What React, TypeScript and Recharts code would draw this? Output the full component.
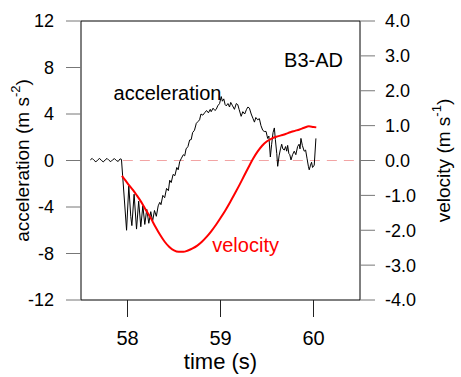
import React from 'react';
import { LineChart, Line, XAxis, YAxis, ReferenceLine, ReferenceArea, ReferenceDot } from 'recharts';

// acceleration trace (m s-2)
const accTime = [
  57.6, 57.62, 57.64, 57.66, 57.68, 57.7, 57.72, 57.74, 57.76, 57.78, 57.8, 57.82, 57.84, 57.86, 57.88, 57.9, 57.92, 57.935,
  57.99, 58.014, 58.035, 58.047, 58.071, 58.097, 58.12, 58.143, 58.165, 58.186, 58.207, 58.229, 58.25, 58.27, 58.29, 58.31,
  58.33, 58.347, 58.36, 58.38, 58.4, 58.42, 58.44, 58.454, 58.47, 58.49, 58.51, 58.53, 58.545, 58.561, 58.58, 58.6, 58.615,
  58.63, 58.65, 58.668, 58.685, 58.7, 58.72, 58.74, 58.757, 58.775, 58.79, 58.81, 58.829, 58.85, 58.87, 58.89, 58.9, 58.92,
  58.94, 58.954, 58.97, 58.99, 59.008, 59.02, 59.035, 59.05, 59.062, 59.08, 59.097, 59.11, 59.13, 59.15, 59.17, 59.186, 59.2,
  59.222, 59.24, 59.26, 59.28, 59.295, 59.311, 59.33, 59.35, 59.365, 59.38, 59.4, 59.418, 59.435, 59.454, 59.47, 59.49,
  59.507, 59.52, 59.536, 59.55, 59.565, 59.579, 59.59, 59.605, 59.615, 59.63, 59.645, 59.658, 59.67, 59.686, 59.7, 59.712,
  59.722, 59.735, 59.745, 59.758, 59.775, 59.793, 59.81, 59.829, 59.845, 59.855, 59.865, 59.88, 59.9, 59.915, 59.93, 59.945,
  59.954, 59.968, 59.979, 59.99, 60.008, 60.026,
];
const accValue = [
  0.05, 0.18, 0.02, -0.12, 0.05, 0.18, 0.0, -0.12, 0.05, 0.18, 0.02, -0.1, 0.06, 0.16, 0.0, -0.08, 0.14, 0.1,
  -6.0, -2.2, -4.8, -5.6, -2.9, -5.9, -3.5, -5.7, -3.9, -5.5, -4.2, -5.4, -4.4, -5.2, -4.3, -4.8,
  -3.9, -3.6, -3.8, -3.0, -3.2, -2.4, -2.6, -1.7, -1.9, -1.2, -1.3, -0.6, -0.8, -0.1, 0.2, 0.5, 0.4,
  1.0, 1.2, 1.76, 1.8, 2.4, 2.6, 3.2, 3.34, 3.5, 4.0, 3.9, 4.1, 4.3, 4.1, 4.4, 4.2, 4.5,
  4.3, 4.4, 4.7, 4.9, 5.5, 5.1, 5.3, 4.8, 4.7, 4.9, 4.6, 5.0, 4.7, 4.4, 4.9, 4.8, 4.4,
  3.8, 4.2, 4.0, 4.4, 4.6, 4.5, 4.0, 3.6, 3.3, 3.7, 3.5, 3.6, 3.0, 2.6, 2.5, 2.5,
  1.9, 2.1, 0.3, 1.4, 2.4, 2.8, 1.8, 0.6, -0.5, 0.4, 1.0, 1.4, 1.0, 0.9, 1.2, 0.8,
  1.3, 0.6, 0.5, 0.05, 0.5, 0.8, 0.5, 1.2, 1.4, 1.0, 1.9, 1.3, 0.8, 0.9, 0.2, -0.5,
  -0.8, -0.4, -0.15, -0.6, -0.4, 1.9,
];

// velocity trace (m s-1)
const velTime = [
  57.94, 57.98, 58.02, 58.06, 58.1, 58.15, 58.2, 58.25, 58.3, 58.35, 58.4, 58.45, 58.5, 58.55, 58.6, 58.65, 58.7, 58.75,
  58.8, 58.85, 58.9, 58.95, 59.0, 59.05, 59.1, 59.15, 59.2, 59.25, 59.3, 59.35, 59.4, 59.45, 59.5, 59.55, 59.6, 59.65,
  59.7, 59.75, 59.8, 59.85, 59.9, 59.95, 60.0, 60.03,
];
const velValue = [
  -0.44, -0.58, -0.72, -0.85, -1.0, -1.2, -1.43, -1.65, -1.9, -2.13, -2.33, -2.48, -2.58, -2.62, -2.62, -2.58, -2.52, -2.44,
  -2.33, -2.19, -2.03, -1.85, -1.65, -1.44, -1.21, -0.97, -0.72, -0.46, -0.2, 0.05, 0.26, 0.43, 0.55, 0.63, 0.68, 0.72,
  0.76, 0.81, 0.85, 0.89, 0.94, 0.98, 0.96, 0.95,
];

const timeTicks = [58, 59, 60];
const accTicks = [-12, -8, -4, 0, 4, 8, 12];
const velTicks = [-4, -3, -2, -1, 0, 1, 2, 3, 4];

const accData = accTime.map((t, i) => ({ t, a: accValue[i] }));
const velData = velTime.map((t, i) => ({ t, v: velValue[i] }));

const FONT = '"Liberation Sans", Arial, sans-serif';

const AxisTitle = ({ viewBox, text, sup, dx }: any) => {
  const cx = viewBox.x + dx;
  const cy = viewBox.y + viewBox.height / 2;
  return (
    <text x={cx} y={cy} transform={`rotate(-90, ${cx}, ${cy})`} textAnchor="middle" dominantBaseline="central"
      fontSize={19} fill="#000" fontFamily={FONT}>
      {text}
      <tspan dy={-7} fontSize={13}>{sup}</tspan>
      <tspan dy={7}>)</tspan>
    </text>
  );
};

export default function App() {
  return (
    <div style={{ position: 'absolute', left: 0, top: 0, fontFamily: FONT }}>
      <LineChart width={461} height={377} data={accData} margin={{ top: 21, right: 0, bottom: 0, left: 0 }}>
        <XAxis dataKey="t" type="number" domain={[57.5, 60.5]} ticks={timeTicks} allowDataOverflow
          height={77} axisLine={false} tickSize={17} tickMargin={14} tickLine={{ stroke: '#222' }}
          tick={{ fill: '#000', fontSize: 20, fontFamily: FONT }}
          label={{ value: 'time (s)', position: 'insideBottom', offset: 8, fontSize: 22, fill: '#000', fontFamily: FONT }} />
        <YAxis yAxisId="left" domain={[-12, 12]} ticks={accTicks} allowDataOverflow width={81}
          axisLine={false} tickSize={15} tickMargin={12} tickLine={{ stroke: '#777' }}
          tick={{ fill: '#000', fontSize: 18, fontFamily: FONT }}
          label={{ content: (p: any) => <AxisTitle {...p} text="acceleration (m s" sup="-2" dx={22} /> }} />
        <YAxis yAxisId="right" orientation="right" domain={[-4, 4]} ticks={velTicks} allowDataOverflow width={101}
          axisLine={false} tickSize={15} tickMargin={10} tickLine={{ stroke: '#777' }}
          tickFormatter={(v: number) => v.toFixed(1)}
          tick={{ fill: '#000', fontSize: 18, fontFamily: FONT }}
          label={{ content: (p: any) => <AxisTitle {...p} text="velocity (m s" sup="-1" dx={83} /> }} />
        <ReferenceArea yAxisId="left" x1={57.5} x2={60.5} y1={-12} y2={12} fill="none" stroke="#000" strokeWidth={1} ifOverflow="visible" />
        <ReferenceLine yAxisId="left" segment={[{ x: 57.95, y: 0 }, { x: 60.5, y: 0 }]} stroke="#f2a4a4" strokeDasharray="10 7" />
        <Line yAxisId="left" data={accData} dataKey="a" type="linear" stroke="#000" strokeWidth={1} dot={false} isAnimationActive={false} />
        <Line yAxisId="right" data={velData} dataKey="v" type="monotone" stroke="#ff0000" strokeWidth={2} dot={false} isAnimationActive={false} />
        <ReferenceDot yAxisId="left" x={58.43} y={5.8} r={0} fill="none" stroke="none" ifOverflow="visible"
          label={{ value: 'acceleration', position: 'center', fontSize: 20, fill: '#000', fontFamily: FONT }} />
        <ReferenceDot yAxisId="left" x={59.27} y={-7.3} r={0} fill="none" stroke="none" ifOverflow="visible"
          label={{ value: 'velocity', position: 'center', fontSize: 20, fill: '#ff0000', fontFamily: FONT }} />
        <ReferenceDot yAxisId="left" x={60.0} y={8.65} r={0} fill="none" stroke="none" ifOverflow="visible"
          label={{ value: 'B3-AD', position: 'center', fontSize: 20, fill: '#000', fontFamily: FONT }} />
      </LineChart>
    </div>
  );
}
